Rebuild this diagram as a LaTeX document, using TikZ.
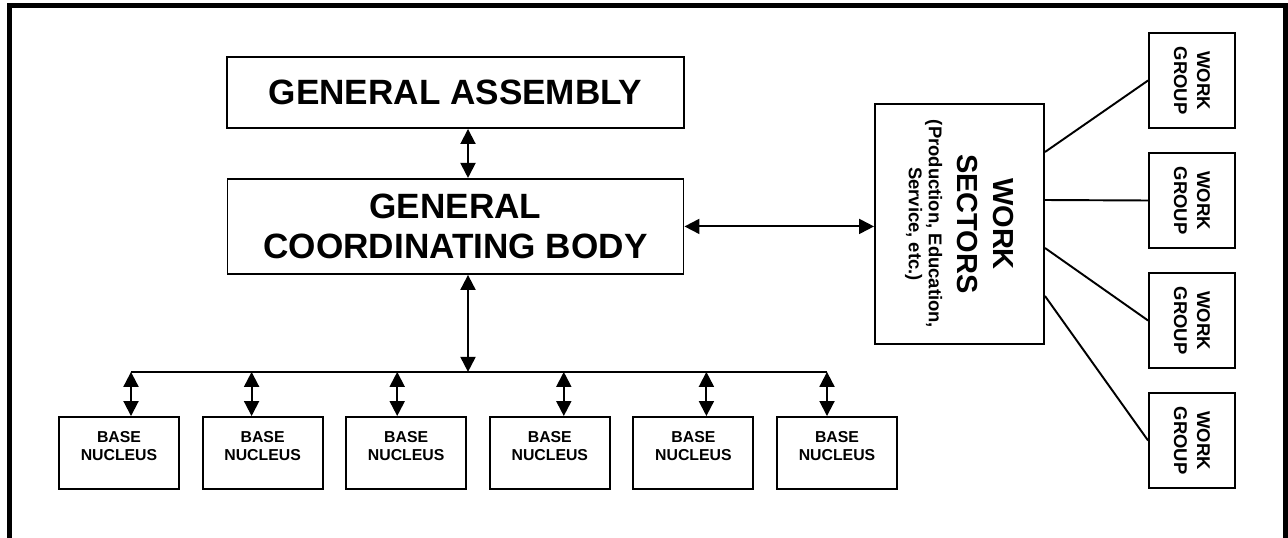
\documentclass[tikz,border=0pt]{standalone}
\usepackage{fontspec}
\setmainfont{Liberation Sans}
\usetikzlibrary{positioning}
\usetikzlibrary{arrows.meta}
\usetikzlibrary{calc}

\begin{document}
\begin{tikzpicture}[
  box/.style={draw, line width=1.1pt, align=center, inner sep=0pt},
  headbox/.style={box, minimum width=9.14cm, minimum height=1.42cm, font=\bfseries\fontsize{20}{23}\selectfont},
  sectorbox/.style={box, rotate=-90, minimum width=4.8cm, minimum height=3.38cm, font=\bfseries\fontsize{16.5}{20.5}\selectfont},
  groupbox/.style={box, rotate=-90, minimum width=1.9cm, minimum height=1.72cm, font=\bfseries\fontsize{10.5}{13}\selectfont},
  basebox/.style={box, minimum width=2.4cm, minimum height=1.44cm, text depth=0.28cm, font=\bfseries\fontsize{9}{10.6}\selectfont},
  link/.style={line width=1.1pt},
  twoway/.style={{Triangle[width=0.3cm,length=0.3cm]}-{Triangle[width=0.3cm,length=0.3cm]}, line width=1.1pt}
]
\useasboundingbox (0,0) rectangle (25.76,-10.74);

% Frame (its bottom edge lies below the page)
\draw[line width=2.8pt] (0.19,-11) -- (0.19,-0.11) -- (25.71,-0.11) -- (25.71,-11);

% Assembly and coordinating body
\node[headbox] (ga) at (9.11,-1.85) {GENERAL ASSEMBLY};
\node[headbox, minimum width=9.12cm, minimum height=1.9cm, below=0.98cm of ga] (gcb) {GENERAL\\COORDINATING BODY};
\draw[twoway] ([xshift=0.25cm]ga.south) -- ([xshift=0.25cm]gcb.north);

% Work sectors (turned text: south is the left side, north the right side)
\node[sectorbox] (ws) at (19.19,-4.48) {WORK\\SECTORS\\[-4pt]{\fontsize{10.5}{11.4}\selectfont (Production, Education,}\\[-9.1pt]{\fontsize{10.5}{11.4}\selectfont Service, etc.)}};
\draw[twoway] (gcb.east) -- (gcb.east -| ws.south);

% Work groups
\foreach \i in {1,...,4}
  \node[groupbox] (wg\i) at (23.84,{-1.61-2.4*(\i-1)}) {WORK\\GROUP};
\foreach \i/\dy in {1/1.44, 2/0.48, 3/-0.48, 4/-1.44}
  \draw[link] ([yshift=\dy cm]ws.north) -- (wg\i.south);

% Base nuclei
\foreach \i in {1,...,6}
  \node[basebox] (bn\i) at ({2.38+2.872*(\i-1)},-9.06) {BASE\\NUCLEUS};

% Bus from the coordinating body down to the nuclei
\coordinate (hub) at ([xshift=0.25cm]gcb.south);
\coordinate (bus) at ($(hub)+(0,-1.94)$);
\draw[twoway] (hub) -- (bus);
\foreach \i/\dx in {1/0.24, 2/-0.22, 3/-0.18, 4/0.28, 5/0.26, 6/-0.20} {
  \coordinate (top\i) at ([xshift=\dx cm]bn\i.north);
  \coordinate (tap\i) at (top\i |- bus);
  \draw[twoway] (tap\i) -- (top\i);
}
\draw[link] (tap1) -- (tap6);

\end{tikzpicture}
\end{document}
